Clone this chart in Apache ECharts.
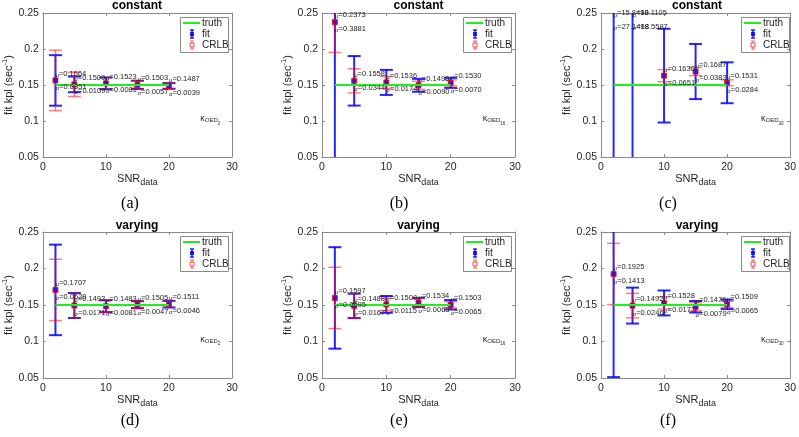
<!DOCTYPE html>
<html>
<head>
  <meta charset="utf-8">
  <title>kpl fits vs SNR</title>
  <script src="https://cdn.jsdelivr.net/npm/echarts@6/dist/echarts.min.js"></script>
  <style>
    html, body { margin: 0; padding: 0; background: #fff; }
    #chart { width: 799px; height: 437px; }
  </style>
</head>
<body>
  <div id="chart"></div>
  <script>
    // data
    const snr = [2, 5, 10, 15, 20];
    const truthKpl = 0.15;
    const panelTitles = ['constant', 'constant', 'constant', 'varying', 'varying', 'varying'];
    const panelOed = ['2', '16', '30', '2', '16', '30'];
    const panelCaptions = ['(a)', '(b)', '(c)', '(d)', '(e)', '(f)'];

    const muA = [0.1564, 0.1509, 0.1523, 0.1503, 0.1487];
    const sdA = [0.0351, 0.0109, 0.0081, 0.0057, 0.0039];
    const muB = [0.2373, 0.1558, 0.1536, 0.1496, 0.1530];
    const sdB = [0.3881, 0.0344, 0.0174, 0.0090, 0.0070];
    const muC = [15.8498, 10.1105, 0.1630, 0.1687, 0.1531];
    const sdC = [27.1498, 18.5587, 0.0651, 0.0383, 0.0284];
    const muD = [0.1707, 0.1493, 0.1483, 0.1505, 0.1511];
    const sdD = [0.0620, 0.0171, 0.0081, 0.0047, 0.0046];
    const muE = [0.1597, 0.1488, 0.1508, 0.1534, 0.1503];
    const sdE = [0.0695, 0.0167, 0.0115, 0.0063, 0.0065];
    const muF = [0.1925, 0.1492, 0.1528, 0.1476, 0.1509];
    const sdF = [0.1413, 0.0246, 0.0171, 0.0079, 0.0065];
    const crlbConstant = [0.0420, 0.0168, 0.0084, 0.0056, 0.0042];
    const crlbVarying = [0.0420, 0.0168, 0.0084, 0.0056, 0.0042];

    const xTicks = [0, 10, 20, 30];
    const yTicks = [0.05, 0.1, 0.15, 0.2, 0.25];

    const panels = [
      { mu: muA, sd: sdA, crlb: crlbConstant },
      { mu: muB, sd: sdB, crlb: crlbConstant },
      { mu: muC, sd: sdC, crlb: crlbConstant },
      { mu: muD, sd: sdD, crlb: crlbVarying },
      { mu: muE, sd: sdE, crlb: crlbVarying },
      { mu: muF, sd: sdF, crlb: crlbVarying }
    ];

    // layout
    const grids = [
      { left: 42, top: 13, width: 190, height: 144 },
      { left: 322, top: 13, width: 193, height: 144 },
      { left: 601, top: 13, width: 192, height: 144 },
      { left: 42, top: 232, width: 190, height: 146 },
      { left: 322, top: 232, width: 193, height: 146 },
      { left: 601, top: 232, width: 192, height: 146 }
    ];
    const captionX = [130, 399, 668];

    const FONT = 'Liberation Sans';
    const TXT = '#262626';
    const FRAME = '#8a8a8a';
    const GREEN = '#1fee1f';
    const BLUE = 'rgba(0,0,255,0.85)';
    const RED = 'rgba(255,0,0,0.5)';
    const yMin = yTicks[0], yMax = yTicks[yTicks.length - 1];
    const CAP = 6.5;

    function errorBar(color, width, hollow) {
      return function (params, api) {
        const x = api.value(0), m = api.value(1), s = api.value(2);
        const lo = Math.max(m - s, yMin), hi = Math.min(m + s, yMax);
        const kids = [];
        if (hi > lo) {
          const pLo = api.coord([x, lo]), pHi = api.coord([x, hi]);
          kids.push({ type: 'line', shape: { x1: pLo[0], y1: pLo[1], x2: pHi[0], y2: pHi[1] },
            style: { stroke: color, lineWidth: width } });
          if (m - s >= yMin) kids.push({ type: 'line', shape: { x1: pLo[0] - CAP, y1: pLo[1], x2: pLo[0] + CAP, y2: pLo[1] },
            style: { stroke: color, lineWidth: width } });
          if (m + s <= yMax) kids.push({ type: 'line', shape: { x1: pHi[0] - CAP, y1: pHi[1], x2: pHi[0] + CAP, y2: pHi[1] },
            style: { stroke: color, lineWidth: width } });
        }
        if (m >= yMin && m <= yMax) {
          const p = api.coord([x, m]);
          kids.push({ type: 'rect', shape: { x: p[0] - 2.5, y: p[1] - 2.5, width: 5, height: 5 },
            style: hollow ? { fill: 'none', stroke: 'rgba(255,0,0,0.8)', lineWidth: 1 } : { fill: BLUE } });
        }
        return { type: 'group', children: kids };
      };
    }

    function statLabels(params, api) {
      const x = api.value(0), m = api.value(1), s = api.value(2);
      const base = Math.min(m, 0.24);
      const pm = api.coord([x, base + 0.0095]);
      const ps = api.coord([x, base - 0.0095]);
      const rich = { g: { fontSize: 6, fontFamily: FONT, fill: TXT, verticalAlign: 'bottom', lineHeight: 9 },
                     n: { fontSize: 7.5, fontFamily: FONT, fill: TXT, lineHeight: 9 } };
      return { type: 'group', children: [
        { type: 'text', x: pm[0], y: pm[1], style: { text: '{g|μ}{n|=' + m.toFixed(4) + '}', rich: rich, align: 'left', verticalAlign: 'middle' } },
        { type: 'text', x: ps[0], y: ps[1], style: { text: '{g|σ}{n|=' + s.toFixed(4) + '}', rich: rich, align: 'left', verticalAlign: 'middle' } }
      ] };
    }

    const xAxes = [], yAxes = [], series = [], graphics = [];
    const axisLine = { show: true, onZero: false, lineStyle: { color: FRAME, width: 1 } };
    const tick = { show: true, inside: true, length: 3, lineStyle: { color: FRAME } };

    grids.forEach((g, i) => {
      xAxes.push({
        gridIndex: i, type: 'value', min: xTicks[0], max: xTicks[xTicks.length - 1], interval: 10,
        axisLine: axisLine, axisTick: tick, splitLine: { show: false },
        axisLabel: { color: TXT, fontFamily: FONT, fontSize: 10.5, margin: 5 },
        name: '{a|SNR}{s|data}', nameLocation: 'middle', nameGap: 14,
        nameTextStyle: { rich: {
          a: { fontSize: 11, fontFamily: FONT, color: TXT, lineHeight: 16, verticalAlign: 'middle' },
          s: { fontSize: 9, fontFamily: FONT, color: TXT, lineHeight: 16, verticalAlign: 'bottom' } } }
      });
      xAxes.push({
        gridIndex: i, type: 'value', position: 'top', min: xTicks[0], max: xTicks[xTicks.length - 1], interval: 10,
        axisLine: axisLine, axisTick: tick, splitLine: { show: false }, axisLabel: { show: false }
      });
      yAxes.push({
        gridIndex: i, type: 'value', min: yMin, max: yMax, interval: 0.05,
        axisLine: axisLine, axisTick: tick, splitLine: { show: false },
        axisLabel: { color: TXT, fontFamily: FONT, fontSize: 10.5, margin: 4,
          formatter: v => String(+v.toFixed(2)) },
        name: '{a|fit kpl (sec}{s|-1}{a|)}', nameLocation: 'middle', nameGap: 24, nameRotate: 90,
        nameTextStyle: { rich: {
          a: { fontSize: 11, fontFamily: FONT, color: TXT, lineHeight: 16, verticalAlign: 'middle' },
          s: { fontSize: 7.5, fontFamily: FONT, color: TXT, lineHeight: 16, verticalAlign: 'top' } } }
      });
      yAxes.push({
        gridIndex: i, type: 'value', position: 'right', min: yMin, max: yMax, interval: 0.05,
        axisLine: axisLine, axisTick: tick, splitLine: { show: false }, axisLabel: { show: false }
      });

      const p = panels[i];
      const ax = { xAxisIndex: 2 * i, yAxisIndex: 2 * i };
      series.push(Object.assign({
        type: 'line', name: 'truth', silent: true, showSymbol: false,
        data: [[snr[0], truthKpl], [snr[snr.length - 1], truthKpl]],
        lineStyle: { color: GREEN, width: 2 }
      }, ax));
      series.push(Object.assign({
        type: 'custom', name: 'fit', silent: true,
        data: snr.map((s, k) => [s, p.mu[k], p.sd[k]]),
        renderItem: errorBar(BLUE, 2, false)
      }, ax));
      series.push(Object.assign({
        type: 'custom', name: 'CRLB', silent: true,
        data: snr.map((s, k) => [s, p.mu[k], p.crlb[k]]),
        renderItem: errorBar(RED, 1.5, true)
      }, ax));
      series.push(Object.assign({
        type: 'custom', name: 'stats', silent: true, z: 5,
        data: snr.map((s, k) => [s, p.mu[k], p.sd[k]]),
        renderItem: statLabels
      }, ax));

      // title
      graphics.push({ type: 'text', x: g.left + g.width / 2, y: i < 3 ? 6 : 226,
        style: { text: panelTitles[i], fontFamily: FONT, fontSize: 12, fontWeight: 'bold', fill: '#000',
          align: 'center', verticalAlign: 'middle' } });
      // caption
      graphics.push({ type: 'text', x: captionX[i % 3], y: i < 3 ? 204 : 421,
        style: { text: panelCaptions[i], fontFamily: 'Liberation Serif', fontSize: 16, fill: '#000',
          align: 'center', verticalAlign: 'middle' } });
      // kappa annotation
      graphics.push({ type: 'text', x: g.left + g.width * 25 / 30, y: g.top + g.height * (0.25 - 0.103) / 0.2,
        style: { text: '{k|κ}{s|OED}{ss|' + panelOed[i] + '}', align: 'left', verticalAlign: 'middle',
          rich: {
            k: { fontSize: 9, fontFamily: FONT, fill: TXT, lineHeight: 14, verticalAlign: 'middle' },
            s: { fontSize: 6, fontFamily: FONT, fill: TXT, verticalAlign: 'bottom', padding: [0, 0, 2, 0] },
            ss: { fontSize: 4.5, fontFamily: FONT, fill: TXT, verticalAlign: 'bottom' } } } });
      // legend box
      const L = g.left + g.width - 52, T = g.top + 4;
      const lt = { fontFamily: FONT, fontSize: 10, fill: TXT, align: 'left', verticalAlign: 'middle' };
      graphics.push({ type: 'group', z: 100, children: [
        { type: 'rect', shape: { x: L + 0.5, y: T + 0.5, width: 48, height: 35 },
          style: { fill: '#fff', stroke: FRAME, lineWidth: 1 } },
        { type: 'line', shape: { x1: L + 3, y1: T + 6, x2: L + 20, y2: T + 6 }, style: { stroke: GREEN, lineWidth: 2 } },
        { type: 'text', x: L + 22, y: T + 6, style: Object.assign({ text: 'truth' }, lt) },
        { type: 'line', shape: { x1: L + 12, y1: T + 13, x2: L + 12, y2: T + 21 }, style: { stroke: BLUE, lineWidth: 1.5 } },
        { type: 'line', shape: { x1: L + 10, y1: T + 13, x2: L + 14, y2: T + 13 }, style: { stroke: BLUE, lineWidth: 1.5 } },
        { type: 'line', shape: { x1: L + 10, y1: T + 21, x2: L + 14, y2: T + 21 }, style: { stroke: BLUE, lineWidth: 1.5 } },
        { type: 'rect', shape: { x: L + 10, y: T + 15, width: 4, height: 4 }, style: { fill: BLUE } },
        { type: 'text', x: L + 22, y: T + 17, style: Object.assign({ text: 'fit' }, lt) },
        { type: 'line', shape: { x1: L + 12, y1: T + 24, x2: L + 12, y2: T + 32 }, style: { stroke: RED, lineWidth: 1.2 } },
        { type: 'line', shape: { x1: L + 10, y1: T + 24, x2: L + 14, y2: T + 24 }, style: { stroke: RED, lineWidth: 1.2 } },
        { type: 'line', shape: { x1: L + 10, y1: T + 32, x2: L + 14, y2: T + 32 }, style: { stroke: RED, lineWidth: 1.2 } },
        { type: 'rect', shape: { x: L + 10, y: T + 26, width: 4, height: 4 }, style: { fill: '#fff', stroke: 'rgba(255,0,0,0.7)', lineWidth: 1 } },
        { type: 'text', x: L + 22, y: T + 28, style: Object.assign({ text: 'CRLB' }, lt) }
      ] });
    });

    const chart = echarts.init(document.getElementById('chart'), null, { renderer: 'canvas' });
    chart.setOption({
      animation: false,
      backgroundColor: '#fff',
      grid: grids,
      xAxis: xAxes,
      yAxis: yAxes,
      series: series,
      graphic: graphics
    });
  </script>
</body>
</html>
